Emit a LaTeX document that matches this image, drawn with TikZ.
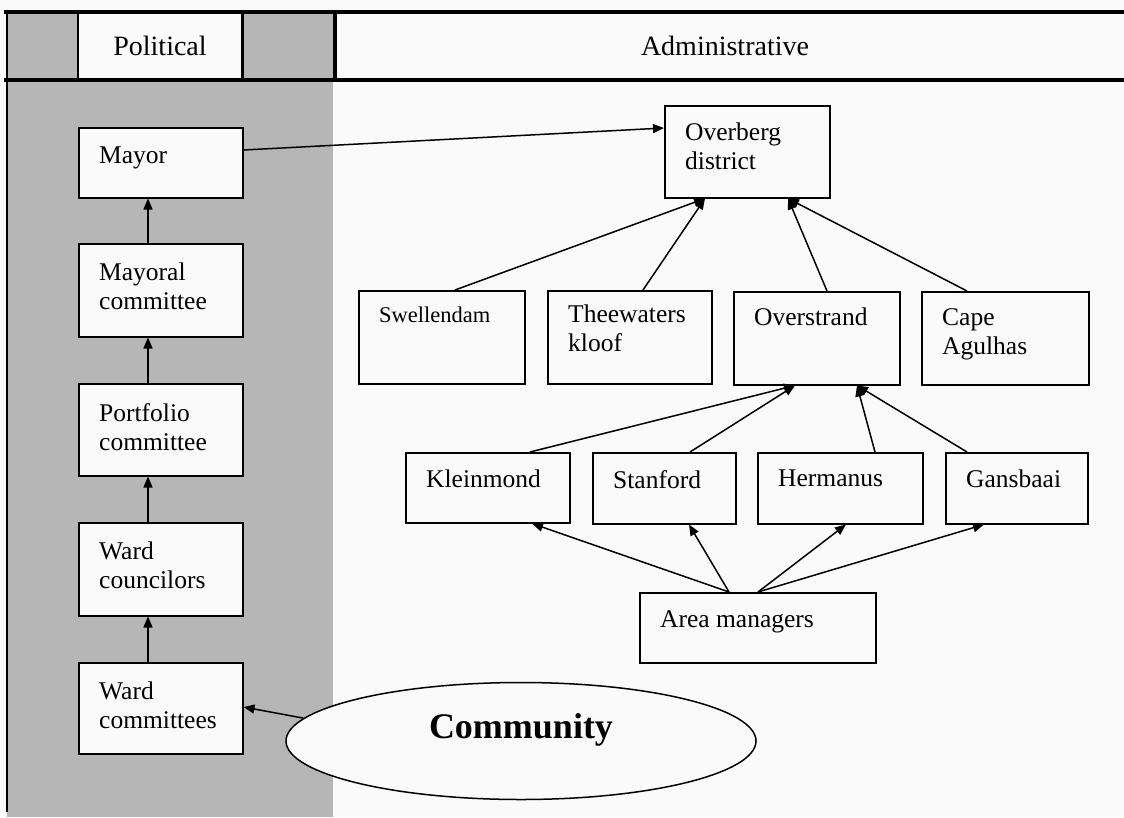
\documentclass[tikz,border=0pt]{standalone}
\usepackage{fontspec}
\setmainfont{Liberation Serif}
\usetikzlibrary{arrows.meta,shapes.geometric}
\definecolor{panelgray}{RGB}{182,182,182}
\definecolor{paper}{RGB}{250,250,250}
% \orgunit{name}{x}{y}{width}{height}{text drop}{text}
\newcommand\orgunit[7]{%
  \node[unit, minimum width=#4pt, minimum height=#5pt] (#1) at (#2,#3) {};
  \node[caption] (#1-t) at ([xshift=21pt,yshift=-#6pt]#1.north west) {#7};}
\begin{document}
\begin{tikzpicture}[x=1pt,y=-1pt,
  unit/.style={draw=black, line width=1.5pt, fill=paper, inner sep=0pt, anchor=north west},
  caption/.style={anchor=north west, inner sep=0pt, align=left, font=\fontsize{25.5}{29}\selectfont},
  heading/.style={inner sep=0pt, font=\fontsize{28}{32}\selectfont},
  link/.style={line width=1.5pt, -{Triangle[length=11pt,width=9pt]}},
  rule/.style={line width=#1, line cap=rect}]
\useasboundingbox (0,0) rectangle (1124,817);

% page, shaded political column and header cells
\fill[paper] (0,0) rectangle (1124,817);
\fill[panelgray] (7,80) rectangle (333,817);
\fill[panelgray] (7,12) rectangle (78,80);
\fill[panelgray] (242,12) rectangle (335,80);

% header frame
\draw[rule=3.5pt] (6,12) -- (1124,12);
\draw[rule=3.5pt] (6,80) -- (1124,80);
\draw[line width=2.5pt] (7,12) -- (7,80);
\draw[line width=1.8pt] (7,80) -- (7,812);
\draw[line width=1.5pt] (78,12) -- (78,80);
\draw[line width=3pt] (242,12) -- (242,80);
\draw[line width=3.5pt] (335,12) -- (335,80);
\node[heading] (hpol) at (160,46) {Political};
\node[heading] (hadm) at (725,46) {Administrative};

% political chain
\orgunit{mayor}{78}{127}{164}{70}{20}{Mayor}
\orgunit{mcom}{78}{243}{164}{93}{20}{Mayoral\\committee}
\orgunit{pcom}{78}{383}{164}{92}{20}{Portfolio\\committee}
\orgunit{wcoun}{78}{522}{164}{93}{20}{Ward\\councilors}
\orgunit{wcomm}{78}{662}{164}{91}{20}{Ward\\committees}

% administrative tree
\orgunit{ovb}{664}{105}{165}{92}{18}{Overberg\\district}
\orgunit{swl}{358}{290}{166}{93}{17}{\fontsize{22.5}{27}\selectfont Swellendam}
\orgunit{thw}{547}{290}{164}{93}{15}{Theewaters\\kloof}
\orgunit{ovs}{733}{291}{166}{93}{17}{Overstrand}
\orgunit{cag}{921}{291}{167}{93}{17}{Cape\\Agulhas}
\orgunit{klm}{405}{452}{164}{70}{18}{Kleinmond}
\orgunit{stf}{592}{452}{143}{71}{18}{Stanford}
\orgunit{hrm}{757}{452}{165}{71}{18}{Hermanus}
\orgunit{gsb}{945}{452}{142}{71}{18}{Gansbaai}
\orgunit{am}{639}{592}{236}{70}{18}{Area managers}

% community
\node[draw=black, line width=1.5pt, fill=paper, ellipse, inner sep=0pt,
      minimum width=470pt, minimum height=117pt] (comm) at (521,741) {};
\node[inner sep=0pt, font=\fontsize{36}{40}\selectfont\bfseries] (comm-t) at (521,730) {Community};

% political links
\draw[link] ([yshift=-23pt]mayor.north east) -- ([yshift=-23pt]ovb.north west);
\draw[link] ([xshift=70pt]mcom.north west) -- ([xshift=70pt]mayor.south west);
\draw[link] ([xshift=70pt]pcom.north west) -- ([xshift=70pt]mcom.south west);
\draw[link] ([xshift=70pt]wcoun.north west) -- ([xshift=70pt]pcom.south west);
\draw[link] ([xshift=70pt]wcomm.north west) -- ([xshift=70pt]wcoun.south west);
\draw[link] (comm.174.6) -- ([yshift=-45pt]wcomm.north east);

% municipalities to district
\draw[link] ([xshift=97pt]swl.north west) -- ([xshift=41pt]ovb.south west);
\draw[link] ([xshift=96pt]thw.north west) -- ([xshift=41pt]ovb.south west);
\draw[link] ([xshift=94pt]ovs.north west) -- ([xshift=124pt]ovb.south west);
\draw[link] ([xshift=46pt]cag.north west) -- ([xshift=124pt]ovb.south west);

% towns to Overstrand
\draw[link] ([xshift=125pt]klm.north west) -- ([xshift=62pt]ovs.south west);
\draw[link] ([xshift=98pt]stf.north west) -- ([xshift=62pt]ovs.south west);
\draw[link] ([xshift=118pt]hrm.north west) -- ([xshift=124pt]ovs.south west);
\draw[link] ([xshift=22pt]gsb.north west) -- ([xshift=124pt]ovs.south west);

% area managers to towns
\draw[link] ([xshift=90pt]am.north west) -- ([xshift=127pt]klm.south west);
\draw[link] ([xshift=90pt]am.north west) -- ([xshift=97pt]stf.south west);
\draw[link] ([xshift=119pt]am.north west) -- ([xshift=89pt]hrm.south west);
\draw[link] ([xshift=119pt]am.north west) -- ([xshift=39pt]gsb.south west);
\end{tikzpicture}
\end{document}
